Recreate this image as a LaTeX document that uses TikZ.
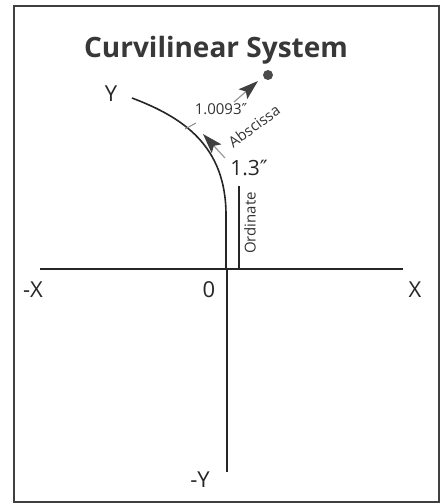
\documentclass[tikz,border=0pt]{standalone}
\usepackage{fontspec}
\setmainfont{Open Sans}
\newfontfamily\symfont{DejaVu Sans}
\usetikzlibrary{arrows.meta}
\newcommand{\dprime}{{\symfont ″}}
\tikzset{
  x=1pt, y=-1pt,
  axis/.style={line width=1.2pt, draw=black!85},
  lbl/.style={inner sep=0pt, text=black!85, font=\fontsize{22}{22}\selectfont},
  small/.style={inner sep=0pt, text=black!80, font=\fontsize{15}{15}\selectfont},
  meas/.style={line width=1.2pt, draw=black!40, arrows={-Stealth[length=20pt, width=13pt, inset=4pt, color=black!75]}},
}
\begin{document}
\begin{tikzpicture}
\useasboundingbox (0,0) rectangle (445,504);
\draw[line width=1.5pt, draw=black!75] (14,6) rectangle (439,502);
\node[inner sep=0pt, text=black!78, font=\fontsize{28}{28}\selectfont\bfseries] (title) at (216,50) {Curvilinear System};
% axes
\coordinate (xl) at (40,269);
\coordinate (xr) at (403,269);
\coordinate (yb) at (227,472);
\coordinate (o) at (227,269);
\draw[axis] (xl) -- (xr);
\draw[axis] (o) -- (yb);
% curve
\coordinate (cs) at (132,98);
\coordinate (cv) at (226,215);
\draw[line width=1.6pt, draw=black!85] (cs) .. controls (182,117) and (226,145) .. (cv) -- (226,269);
% ordinate
\coordinate (ot) at (239,186);
\coordinate (ob) at (239,269);
\draw[line width=1.2pt, draw=black!85] (ot) -- (ob);
\node[small, rotate=90] (ord) at (250,223) {Ordinate};
\node[inner sep=0pt, text=black!85, font=\fontsize{21}{21}\selectfont] (h13) at (249,168) {1.3\dprime};
% tick on curve
\coordinate (t1) at (185,129);
\coordinate (t2) at (196,123);
\draw[line width=1pt, draw=black!45] (t1) -- (t2);
% abscissa arrow
\coordinate (a1) at (225,158);
\coordinate (a2) at (203,134);
\draw[meas] (a1) -- (a2);
\node[small, rotate=36] (abs) at (254,126) {Abscissa};
\node[small] (val) at (221,109) {1.0093\dprime};
% dot arrow
\coordinate (b1) at (234,102);
\coordinate (b2) at (258,81);
\draw[meas] (b1) -- (b2);
\node[circle, fill=black!70, inner sep=0pt, minimum size=10pt] (dot) at (268,75) {};
% axis labels
\node[lbl] (ylab) at (111,94) {Y};
\node[lbl] (nylab) at (200,480) {-Y};
\node[lbl] (nxlab) at (33,290) {-X};
\node[lbl] (zero) at (209,290) {0};
\node[lbl] (xlab) at (415,290) {X};
\end{tikzpicture}
\end{document}
